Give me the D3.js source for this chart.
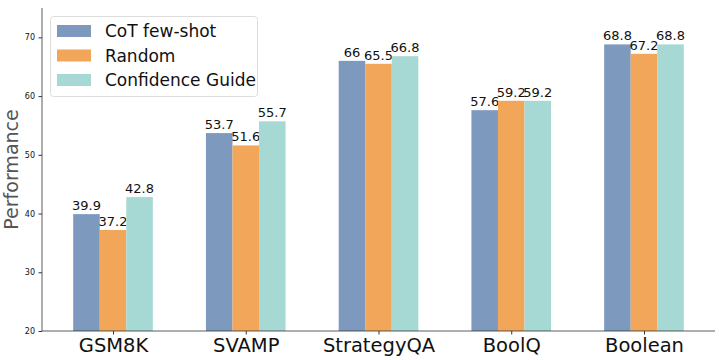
<!DOCTYPE html>
<html><head><meta charset="utf-8">
<script src="https://cdn.jsdelivr.net/npm/d3@7"></script>
<style>body{margin:0;background:#fff}svg{display:block}text{font-family:"DejaVu Sans",sans-serif}</style>
</head><body><svg id="c" width="719" height="360"></svg>
<script>
const categories = ["GSM8K","SVAMP","StrategyQA","BoolQ","Boolean"];
const seriesNames = ["CoT few-shot","Random","Confidence Guide"];
const cotFewShot = [39.9,53.7,66,57.6,68.8];
const random = [37.2,51.6,65.5,59.2,67.2];
const confidenceGuide = [42.8,55.7,66.8,59.2,68.8];
const yTicks = [20,30,40,50,60,70];
const colors = ["#7d9abe","#f2a65a","#a6d9d4"];
const series = [cotFewShot, random, confidenceGuide];

(function(){
const svg = d3.select("#c");
const mL = 42, mR = 715, mT = 8, mB = 331;
const x = d3.scaleLinear().domain([-0.535, 4.535]).range([mL, mR]);
const y = d3.scaleLinear().domain([20, 75]).range([mB, mT]);
const bw = 0.2;

series.forEach((vals, si) => {
  const off = (si - 1) * bw;
  svg.append("g").selectAll("rect").data(vals).join("rect")
    .attr("x", (d, i) => x(i + off - bw/2))
    .attr("width", x(bw) - x(0))
    .attr("y", d => y(d))
    .attr("height", d => y(20) - y(d))
    .attr("fill", colors[si]);
  svg.append("g").selectAll("text").data(vals).join("text")
    .attr("x", (d, i) => x(i + off))
    .attr("y", d => y(d) - 4)
    .attr("text-anchor", "middle")
    .attr("font-size", 13)
    .attr("fill", "#111")
    .text(d => d);
});

const yAxis = svg.append("g").attr("transform", `translate(${mL},0)`)
  .call(d3.axisLeft(y).tickValues(yTicks).tickSize(3.5).tickPadding(3.5));
yAxis.select(".domain").attr("d", `M0,${mT}V${mB}`).attr("stroke", "#333").attr("stroke-width", 0.8);
yAxis.selectAll(".tick line").attr("stroke", "#333");
yAxis.selectAll(".tick text").attr("font-size", 8).attr("fill", "#111").attr("font-family", "DejaVu Sans");

const xAxis = svg.append("g").attr("transform", `translate(0,${mB})`)
  .call(d3.axisBottom(x).tickValues(d3.range(categories.length)).tickFormat(i => categories[i]).tickSize(3.5).tickPadding(4));
xAxis.select(".domain").attr("d", `M${mL},0H${mR}`).attr("stroke", "#333").attr("stroke-width", 0.8);
xAxis.selectAll(".tick line").attr("stroke", "#333");
xAxis.selectAll(".tick text").attr("font-size", 19.5).attr("fill", "#111").attr("font-family", "DejaVu Sans");

svg.append("text")
  .attr("transform", `translate(18,${(mT+mB)/2}) rotate(-90)`)
  .attr("text-anchor", "middle")
  .attr("font-size", 19)
  .attr("fill", "#555")
  .text("Performance");

const lg = svg.append("g");
lg.append("rect").attr("x", 50.5).attr("y", 16.5).attr("width", 207).attr("height", 80)
  .attr("rx", 3).attr("fill", "#fff").attr("fill-opacity", 0.8).attr("stroke", "#ddd");
seriesNames.forEach((n, i) => {
  const cy = 31 + i * 24.5;
  lg.append("rect").attr("x", 57).attr("y", cy - 6).attr("width", 34).attr("height", 12).attr("fill", colors[i]);
  lg.append("text").attr("x", 105).attr("y", cy + 6).attr("font-size", 17).attr("fill", "#111").text(n);
});
})();
</script></body></html>
